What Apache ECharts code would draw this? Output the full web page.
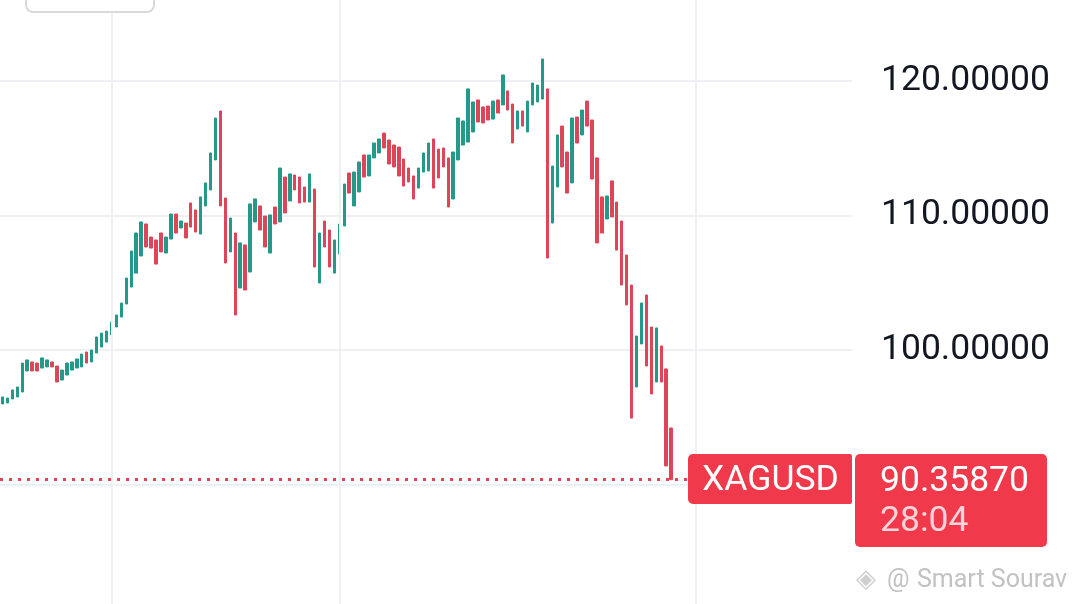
<!DOCTYPE html>
<html lang="en">
<head>
<meta charset="UTF-8">
<meta name="viewport" content="width=device-width, initial-scale=1.0">
<title>XAGUSD</title>
<script src="https://cdn.jsdelivr.net/npm/echarts@6/dist/echarts.min.js"></script>
<style>
    html, body { margin: 0; padding: 0; background: #fff; }
    #ec { width: 1074px; height: 604px; }
</style>
</head>
<body>
<div id="ec"></div>
<script>
    // candle opens / closes
    var opens = [
        95.99, 96.06, 96.36, 96.51, 96.88, 98.44, 99.11, 99.03, 98.66, 98.74,
        99.11, 98.81, 97.77, 98.14, 98.51, 98.66, 98.74, 99.85, 99.11, 99.78,
        100.22, 100.59, 101.12, 101.71, 102.45, 103.42, 104.68, 105.72, 106.99, 109.37,
        108.40, 108.18, 108.70, 107.21, 108.25, 110.11, 109.07, 109.44, 110.93, 110.41,
        108.62, 110.71, 111.90, 114.13, 117.77, 111.30, 107.29, 108.70, 104.61, 107.81,
        105.80, 109.52, 110.71, 109.96, 107.21, 110.63, 109.52, 112.86, 111.08, 113.01,
        112.86, 112.12, 111.00, 111.97, 104.98, 109.59, 108.92, 105.72, 107.14, 109.22,
        113.16, 110.71, 111.75, 114.50, 112.94, 114.28, 114.65, 116.13, 115.61, 115.24,
        115.09, 114.20, 113.53, 112.94, 112.04, 113.23, 113.31, 115.69, 114.94, 115.02,
        114.28, 111.23, 114.13, 115.24, 115.46, 116.21, 118.59, 118.07, 118.14, 117.17,
        118.59, 118.22, 119.26, 118.29, 116.43, 117.77, 116.21, 118.22, 118.44, 118.66,
        119.41, 109.44, 112.12, 116.65, 114.72, 112.42, 117.32, 115.99, 118.51, 117.10,
        114.28, 111.38, 109.74, 112.57, 111.00, 109.59, 107.06, 104.83, 97.25, 100.45,
        104.09, 101.71, 97.62, 100.30, 98.59, 94.20
    ];
    var closes = [
        96.51, 96.43, 97.03, 97.25, 99.03, 99.26, 98.44, 98.44, 99.41, 99.26,
        98.74, 97.62, 98.51, 99.03, 99.11, 99.33, 99.70, 99.03, 100.00, 100.97,
        101.26, 101.41, 102.08, 102.60, 103.49, 105.35, 107.36, 108.70, 109.52, 107.66,
        107.58, 106.39, 107.29, 108.40, 110.11, 108.70, 109.59, 108.33, 109.14, 108.77,
        111.38, 112.42, 114.65, 117.25, 110.71, 106.47, 109.81, 102.60, 107.96, 104.46,
        110.86, 111.23, 108.92, 107.66, 110.04, 109.37, 113.53, 110.19, 113.09, 111.90,
        110.93, 111.00, 113.09, 106.17, 108.70, 107.66, 106.17, 108.18, 109.37, 112.34,
        111.67, 113.23, 113.98, 112.86, 114.50, 115.39, 115.69, 115.02, 113.83, 113.61,
        112.94, 112.19, 112.49, 111.23, 113.53, 114.65, 115.39, 112.04, 112.79, 113.61,
        110.63, 114.72, 117.25, 117.03, 119.41, 118.44, 116.95, 116.88, 117.10, 118.51,
        117.62, 120.45, 117.84, 115.39, 117.77, 116.65, 118.51, 119.85, 119.70, 121.64,
        106.84, 113.68, 115.99, 113.61, 111.67, 117.25, 115.39, 117.84, 116.65, 112.71,
        107.96, 108.70, 111.45, 109.89, 107.43, 104.83, 103.35, 94.94, 101.04, 103.49,
        98.81, 96.73, 101.64, 97.62, 91.38, 90.36
    ];
    var slotCount = 172;          // chart keeps empty room right of the last candle
    var vLines = [22, 68, 140];   // slots that carry the vertical grid lines
    var yTicks = [80, 90, 100, 110, 120, 130];
    var shownTicks = [100, 110, 120];
    var symbol = 'XAGUSD';
    var lastPrice = 90.3587;
    var countdown = '28:04';
    var author = 'Smart Sourav';

    var green = '#23998a';
    var red = '#de4558';
    var tagRed = '#f03a4b';

    var cats = [];
    for (var i = 0; i < slotCount; i++) cats.push(String(i));

    var candles = opens.map(function (o, i) {
        var c = closes[i];
        return [o, c, Math.min(o, c), Math.max(o, c)];
    });

    var marks = vLines.map(function (s) {
        return { xAxis: String(s), lineStyle: { color: '#eef0f3', width: 2, type: 'solid' } };
    });
    marks.push({ yAxis: lastPrice, lineStyle: { color: red, width: 3, type: [3, 6] } });

    var mychart = echarts.init(document.getElementById('ec'));
    var options = {
        animation: false,
        backgroundColor: '#ffffff',
        grid: { left: 0, right: 222, top: -53.5, bottom: -15, outerBoundsMode: 'none', containLabel: false },
        xAxis: {
            type: 'category',
            data: cats,
            boundaryGap: true,
            axisLine: { show: false },
            axisTick: { show: false },
            axisLabel: { show: false },
            splitLine: { show: false }
        },
        yAxis: {
            type: 'value',
            position: 'right',
            min: yTicks[0],
            max: yTicks[yTicks.length - 1],
            interval: yTicks[1] - yTicks[0],
            axisLine: { show: false },
            axisTick: { show: false },
            axisLabel: {
                margin: 29,
                color: '#131722',
                fontSize: 35.5,
                fontFamily: 'Roboto',
                padding: [6, 0, 0, 0],
                formatter: function (v) {
                    return shownTicks.indexOf(v) >= 0 ? v.toFixed(5) : '';
                }
            },
            splitLine: { lineStyle: { color: '#eef0f3', width: 2 } }
        },
        series: [{
            type: 'candlestick',
            data: candles,
            barWidth: 3,
            itemStyle: {
                color: green,
                color0: red,
                borderColor: green,
                borderColor0: red,
                borderWidth: 1
            },
            markLine: {
                silent: true,
                symbol: ['none', 'none'],
                label: { show: false },
                data: marks
            }
        }],
        graphic: [
            {
                type: 'rect', z: 100,
                shape: { x: 26, y: -14, width: 128, height: 26, r: 7 },
                style: { fill: '#fff', stroke: '#d9d9d9', lineWidth: 2 }
            },
            {
                type: 'rect', z: 100,
                shape: { x: 688, y: 454, width: 164, height: 50, r: [5, 2, 2, 5] },
                style: { fill: tagRed }
            },
            {
                type: 'text', z: 101, x: 702, y: 481,
                style: { text: symbol, fill: '#ffffff', font: '35.5px Roboto', textVerticalAlign: 'middle' }
            },
            {
                type: 'rect', z: 100,
                shape: { x: 855, y: 454, width: 192, height: 93, r: 5 },
                style: { fill: tagRed }
            },
            {
                type: 'text', z: 101, x: 880, y: 482,
                style: { text: lastPrice.toFixed(5), fill: '#ffffff', font: '35.5px Roboto', textVerticalAlign: 'middle' }
            },
            {
                type: 'text', z: 101, x: 880, y: 522,
                style: { text: countdown, fill: '#fcd3d8', font: '35.5px Roboto', textVerticalAlign: 'middle' }
            },
            {
                type: 'text', z: 101, x: 856, y: 580,
                style: { text: '◈', fill: '#cfcfcf', font: '26px "DejaVu Sans"', textVerticalAlign: 'middle' }
            },
            {
                type: 'text', z: 101, x: 887, y: 581,
                style: { text: '@', fill: '#c2c2c2', font: '25px Roboto', textVerticalAlign: 'middle' }
            },
            {
                type: 'text', z: 101, x: 917, y: 581,
                style: { text: author, fill: '#c2c2c2', font: '25px Roboto', textVerticalAlign: 'middle' }
            }
        ]
    };
    mychart.setOption(options);
</script>
</body>
</html>
